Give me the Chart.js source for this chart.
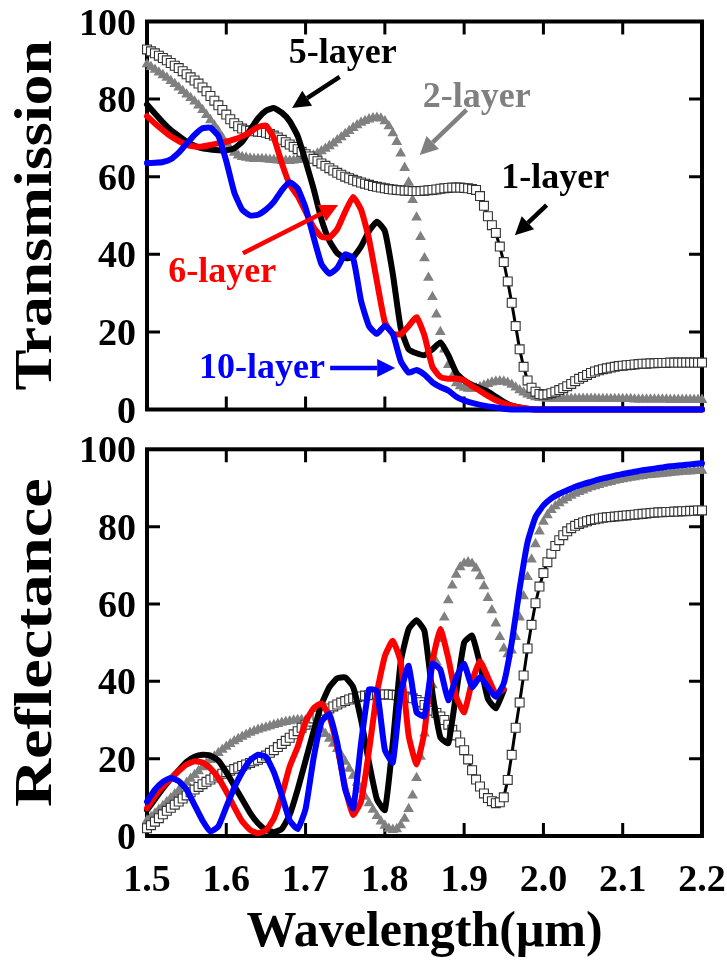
<!DOCTYPE html>
<html lang="en">
<head>
    <meta charset="UTF-8">
    <title>Transmission and Reflectance vs Wavelength</title>
    <script src="https://cdn.jsdelivr.net/npm/chart.js"></script>
    <style>
        body { margin: 0; background: #fff; }
        .wrap { position: relative; width: 727px; height: 977px; }
        canvas { position: absolute; left: 0; top: 0; }
    </style>
</head>
<body>
<div class="wrap">
    <canvas id="transChart" width="727" height="977"></canvas>
    <canvas id="reflChart" width="727" height="977"></canvas>
</div>
<script>
// wavelength grid for the solid lines (um)
const wlLine = [
    1.50, 1.51, 1.52, 1.53, 1.54, 1.55, 1.56, 1.57, 1.58, 1.59,
    1.60, 1.61, 1.62, 1.63, 1.64, 1.65, 1.66, 1.67, 1.68, 1.69,
    1.70, 1.71, 1.72, 1.73, 1.74, 1.75, 1.76, 1.77, 1.78, 1.79,
    1.80, 1.81, 1.82, 1.83, 1.84, 1.85, 1.86, 1.87, 1.88, 1.89,
    1.90, 1.91, 1.92, 1.93, 1.94, 1.95, 1.96, 1.97, 1.98, 1.99,
    2.00, 2.01, 2.02, 2.03, 2.04, 2.05, 2.06, 2.07, 2.08, 2.09,
    2.10, 2.11, 2.12, 2.13, 2.14, 2.15, 2.16, 2.17, 2.18, 2.19,
    2.20
];
// finer grid for the marker series
const wlMark = [
    1.500, 1.505, 1.510, 1.515, 1.520, 1.525, 1.530, 1.535, 1.540, 1.545,
    1.550, 1.555, 1.560, 1.565, 1.570, 1.575, 1.580, 1.585, 1.590, 1.595,
    1.600, 1.605, 1.610, 1.615, 1.620, 1.625, 1.630, 1.635, 1.640, 1.645,
    1.650, 1.655, 1.660, 1.665, 1.670, 1.675, 1.680, 1.685, 1.690, 1.695,
    1.700, 1.705, 1.710, 1.715, 1.720, 1.725, 1.730, 1.735, 1.740, 1.745,
    1.750, 1.755, 1.760, 1.765, 1.770, 1.775, 1.780, 1.785, 1.790, 1.795,
    1.800, 1.805, 1.810, 1.815, 1.820, 1.825, 1.830, 1.835, 1.840, 1.845,
    1.850, 1.855, 1.860, 1.865, 1.870, 1.875, 1.880, 1.885, 1.890, 1.895,
    1.900, 1.905, 1.910, 1.915, 1.920, 1.925, 1.930, 1.935, 1.940, 1.945,
    1.950, 1.955, 1.960, 1.965, 1.970, 1.975, 1.980, 1.985, 1.990, 1.995,
    2.000, 2.005, 2.010, 2.015, 2.020, 2.025, 2.030, 2.035, 2.040, 2.045,
    2.050, 2.055, 2.060, 2.065, 2.070, 2.075, 2.080, 2.085, 2.090, 2.095,
    2.100, 2.105, 2.110, 2.115, 2.120, 2.125, 2.130, 2.135, 2.140, 2.145,
    2.150, 2.155, 2.160, 2.165, 2.170, 2.175, 2.180, 2.185, 2.190, 2.195,
    2.200
];

const xTicks = [1.5, 1.6, 1.7, 1.8, 1.9, 2.0, 2.1, 2.2];
const xTickLabels = ['1.5', '1.6', '1.7', '1.8', '1.9', '2.0', '2.1', '2.2'];
const yTicks = [0, 20, 40, 60, 80, 100];

// ---- Transmission (top) ----
const trans1 = [
    92.8, 92.3, 91.8, 91.2, 90.6, 90.0, 89.3, 88.6, 88.0, 87.2,
    86.4, 85.6, 84.8, 84.0, 83.0, 82.0, 80.8, 79.6, 78.4, 77.2,
    76.0, 74.8, 73.8, 73.0, 72.4, 72.0, 71.8, 71.7, 71.6, 71.5,
    71.3, 71.0, 70.6, 70.1, 69.5, 68.9, 68.3, 67.7, 67.1, 66.4,
    65.8, 65.2, 64.6, 64.0, 63.4, 62.8, 62.2, 61.6, 61.0, 60.5,
    60.0, 59.6, 59.2, 58.8, 58.5, 58.2, 57.9, 57.6, 57.4, 57.2,
    57.0, 56.8, 56.7, 56.6, 56.5, 56.4, 56.4, 56.3, 56.3, 56.3,
    56.4, 56.5, 56.6, 56.7, 56.9, 57.0, 57.1, 57.2, 57.2, 57.2,
    57.1, 57.0, 56.8, 56.6, 55.0, 52.5, 49.8, 47.5, 45.5, 42.0,
    38.0, 33.0, 27.5, 21.5, 15.5, 11.0, 7.5, 5.6, 4.6, 4.0,
    3.8, 3.9, 4.2, 4.6, 5.0, 5.5, 6.0, 6.6, 7.3, 7.9,
    8.4, 8.9, 9.4, 9.8, 10.1, 10.4, 10.6, 10.8, 11.0, 11.2,
    11.3, 11.4, 11.5, 11.6, 11.7, 11.8, 11.8, 11.9, 11.9, 12.0,
    12.0, 12.0, 12.1, 12.1, 12.1, 12.1, 12.1, 12.1, 12.1, 12.1,
    12.1
];
const trans2 = [
    89.0, 88.3, 87.6, 86.9, 86.2, 85.5, 84.7, 83.9, 83.0, 82.1,
    81.2, 80.3, 79.4, 78.4, 77.2, 75.9, 74.6, 73.2, 71.7, 70.1,
    68.5, 67.2, 66.2, 65.5, 65.1, 64.9, 64.7, 64.6, 64.6, 64.6,
    64.5, 64.4, 64.3, 64.2, 64.1, 64.1, 64.1, 64.2, 64.3, 64.5,
    64.8, 65.1, 65.5, 66.0, 66.6, 67.2, 67.9, 68.6, 69.4, 70.2,
    71.0, 71.8, 72.6, 73.3, 73.9, 74.4, 74.8, 75.1, 75.2, 75.0,
    74.3, 73.0, 71.2, 69.0, 66.0, 62.3, 58.5, 54.0, 49.5, 44.5,
    39.0, 34.0, 29.0, 24.5, 20.0, 15.5, 11.5, 8.5, 6.8, 6.0,
    5.6, 5.4, 5.4, 5.5, 5.8, 6.2, 6.6, 7.0, 7.2, 7.3,
    7.2, 6.9, 6.4, 5.7, 5.0, 4.4, 3.9, 3.5, 3.2, 3.0,
    2.9, 2.8, 2.8, 2.8, 2.8, 2.8, 2.8, 2.8, 2.8, 2.8,
    2.8, 2.8, 2.8, 2.8, 2.7, 2.7, 2.7, 2.7, 2.7, 2.7,
    2.7, 2.7, 2.7, 2.6, 2.6, 2.6, 2.6, 2.6, 2.6, 2.6,
    2.6, 2.6, 2.5, 2.5, 2.5, 2.5, 2.5, 2.5, 2.5, 2.5,
    2.5
];
const trans5 = [
    78.6, 76.3, 74.0, 72.0, 70.5, 69.0, 68.0, 67.3, 67.0, 66.8,
    66.8, 67.3, 69.0, 72.0, 75.0, 77.0, 77.7, 76.5, 74.3, 70.5,
    64.0, 57.0, 49.0, 43.5, 40.3, 39.0, 39.3, 42.0, 46.0, 48.4,
    46.0, 35.0, 21.0, 15.5, 14.5, 14.0, 15.5, 17.3, 14.0, 9.5,
    7.5, 6.3, 5.5, 4.6, 3.3, 2.0, 1.0, 0.5, 0.2, 0,
    0, 0, 0, 0, 0, 0, 0, 0, 0, 0,
    0, 0, 0, 0, 0, 0, 0, 0, 0, 0,
    0
];
const trans6 = [
    75.6, 73.7, 72.0, 70.4, 69.2, 68.2, 67.8, 67.8, 68.2, 68.6,
    69.0, 69.6, 70.4, 71.5, 72.8, 73.2, 70.0, 63.5, 58.0, 55.0,
    51.0, 47.0, 44.5, 44.3, 46.5, 51.0, 54.8, 51.5, 44.0, 33.0,
    22.5, 19.5, 19.4, 21.5, 23.8, 19.0, 11.0, 8.4, 7.9, 8.0,
    7.5, 6.0, 4.8, 3.5, 2.4, 1.6, 1.0, 0.5, 0.2, 0,
    0, 0, 0, 0, 0, 0, 0, 0, 0, 0,
    0, 0, 0, 0, 0, 0, 0, 0, 0, 0,
    0
];
const trans10 = [
    63.5, 63.6, 63.8, 64.5, 66.2, 68.5, 70.8, 72.5, 72.6, 70.5,
    64.0, 56.0, 51.5, 50.0, 50.2, 51.5, 53.5, 56.5, 58.6, 57.0,
    52.0, 44.5, 37.5, 35.0, 36.5, 40.0, 39.0, 28.0, 21.5, 19.5,
    21.6, 19.5, 12.5, 9.5, 10.2, 9.0, 7.0, 5.8, 4.9, 3.3,
    2.3, 1.7, 1.2, 0.8, 0.5, 0.2, 0, 0, 0, 0,
    0, 0, 0, 0, 0, 0, 0, 0, 0, 0,
    0, 0, 0, 0, 0, 0, 0, 0, 0, 0,
    0
];

// ---- Reflectance (bottom) ----
const refl1 = [
    2.0, 2.8, 3.7, 4.6, 5.6, 6.5, 7.3, 8.1, 8.9, 9.7,
    10.5, 11.3, 12.0, 12.7, 13.4, 14.0, 14.6, 15.1, 15.6, 16.1,
    16.5, 16.9, 17.3, 17.7, 18.1, 18.5, 18.9, 19.3, 19.7, 20.2,
    20.8, 21.5, 22.2, 23.0, 23.8, 24.6, 25.4, 26.3, 27.1, 28.0,
    28.8, 29.6, 30.4, 31.1, 31.8, 32.4, 33.0, 33.5, 34.0, 34.5,
    34.9, 35.3, 35.6, 35.9, 36.1, 36.3, 36.4, 36.5, 36.6, 36.6,
    36.6, 36.6, 36.5, 36.4, 36.3, 36.1, 35.9, 35.6, 35.2, 34.6,
    33.9, 33.1, 32.4, 31.8, 30.9, 30.0, 28.8, 27.5, 26.0, 24.2,
    22.2, 19.8, 17.0, 14.6, 12.8, 11.0, 9.8, 9.0, 8.5, 8.7,
    10.0, 14.5, 21.0, 28.0, 34.5, 41.5, 48.5, 54.6, 60.2, 64.5,
    68.0, 70.8, 73.0, 75.0, 76.5, 77.8, 78.8, 79.6, 80.2, 80.7,
    81.1, 81.4, 81.7, 81.9, 82.1, 82.3, 82.4, 82.5, 82.6, 82.7,
    82.8, 82.9, 83.0, 83.1, 83.2, 83.3, 83.4, 83.5, 83.6, 83.7,
    83.7, 83.8, 83.8, 83.9, 83.9, 84.0, 84.0, 84.1, 84.1, 84.2,
    84.2
];
const refl2 = [
    4.0, 4.9, 5.8, 6.8, 7.8, 8.8, 9.8, 10.8, 11.8, 12.8,
    13.8, 14.8, 15.8, 16.8, 17.8, 18.8, 19.7, 20.6, 21.5, 22.3,
    23.1, 23.8, 24.5, 25.1, 25.7, 26.2, 26.7, 27.1, 27.5, 27.8,
    28.1, 28.4, 28.7, 29.0, 29.3, 29.5, 29.7, 29.9, 30.0, 30.0,
    29.9, 29.6, 29.1, 28.4, 27.5, 26.4, 25.2, 23.9, 22.5, 20.9,
    19.2, 17.4, 15.6, 13.8, 12.0, 10.2, 8.5, 6.8, 5.2, 3.8,
    2.7, 1.9, 1.6, 1.8, 2.8, 4.5, 7.0, 10.5, 15.0, 20.5,
    26.5, 32.8, 39.0, 45.0, 51.0, 56.5, 61.0, 64.8, 67.6, 69.5,
    70.5, 70.8, 70.4, 69.2, 67.2, 64.6, 61.6, 58.4, 55.0, 51.5,
    48.5, 47.0, 48.0, 51.5, 56.5, 62.0, 67.0, 71.5, 75.5, 78.8,
    81.3, 83.0, 84.3, 85.3, 86.1, 86.8, 87.4, 88.0, 88.5, 89.0,
    89.4, 89.8, 90.2, 90.5, 90.8, 91.1, 91.4, 91.6, 91.9, 92.1,
    92.3, 92.5, 92.7, 92.8, 93.0, 93.1, 93.3, 93.4, 93.5, 93.6,
    93.7, 93.8, 93.9, 94.0, 94.1, 94.2, 94.3, 94.3, 94.4, 94.4,
    94.5
];
// 5- and 6-layer reflectance run under the 10-layer curve beyond 1.95 um
const refl5 = [
    6.7, 9.5, 12.3, 14.8, 17.0, 19.2, 20.5, 21.0, 20.8, 19.5,
    16.5, 13.0, 9.5, 6.0, 3.3, 1.6, 1.0, 1.8, 5.5, 12.0,
    19.5, 27.0, 34.0, 38.5, 40.8, 41.0, 38.5, 30.0, 19.0, 9.5,
    6.7, 24.0, 45.0, 53.5, 55.8, 53.0, 37.0, 25.5, 24.0, 37.0,
    50.0, 51.8, 44.5, 35.5, 33.0, 37.7
];
const refl6 = [
    7.2, 10.3, 12.8, 14.8, 16.8, 18.5, 19.3, 19.0, 17.5, 15.0,
    11.5, 7.5, 3.8, 1.6, 0.7, 1.5, 4.5, 10.5, 18.0, 23.0,
    29.5, 33.0, 34.3, 31.0, 23.0, 12.5, 5.5, 9.0, 22.0, 37.0,
    46.5, 50.5, 45.0, 26.0, 18.5, 27.0, 45.0, 53.5, 46.0, 36.0,
    32.0, 40.0, 45.2, 41.0, 36.8, 38.0
];
const refl10 = [
    8.9, 12.0, 14.0, 15.0, 14.2, 12.0, 8.0, 4.0, 1.2, 2.5,
    7.5, 12.5, 16.5, 19.6, 21.0, 20.5, 16.5, 10.5, 4.0, 1.8,
    7.0, 20.0, 29.5, 31.5, 24.0, 12.0, 7.2, 24.0, 37.9, 37.5,
    22.3, 19.0, 37.0, 44.0, 32.0, 31.0, 44.5, 43.0, 35.1, 41.0,
    44.5, 38.5, 41.1, 38.5, 36.0, 39.5, 50.0, 64.0, 76.0, 82.5,
    85.5, 87.3, 88.5, 89.4, 90.3, 91.0, 91.6, 92.2, 92.7, 93.2,
    93.6, 94.0, 94.4, 94.7, 95.0, 95.3, 95.6, 95.8, 96.0, 96.2,
    96.4
];

// text labels with arrows on the transmission panel, in data units
const transNotes = [
    { text: '5-layer', color: '#000000', x: 1.747, y: 89.3, from: [1.743, 85.7], to: [1.683, 77.7] },
    { text: '2-layer', color: '#808080', x: 1.916, y: 78.0, from: [1.903, 77.2], to: [1.844, 65.6] },
    { text: '1-layer', color: '#000000', x: 2.015, y: 57.1, from: [2.004, 52.7], to: [1.964, 44.9] },
    { text: '6-layer', color: '#ff0000', x: 1.595, y: 32.9, from: [1.621, 40.3], to: [1.741, 52.7] },
    { text: '10-layer', color: '#0000ff', x: 1.645, y: 8.1, from: [1.731, 10.7], to: [1.813, 10.7] }
];

const SERIF = '"Liberation Serif", "Times New Roman", serif';

function pts(xs, ys) {
    return ys.map((y, i) => ({ x: xs[i], y: y }));
}

function lineSet(label, xs, ys, color) {
    return {
        label: label,
        data: pts(xs, ys),
        showLine: true,
        borderColor: color,
        backgroundColor: color,
        borderWidth: 6,
        borderCapStyle: 'round',
        borderJoinStyle: 'round',
        pointRadius: 0,
        tension: 0.15,
        clip: false
    };
}

function squareSet(label, ys) {
    return {
        label: label,
        data: pts(wlMark, ys),
        showLine: true,
        borderColor: '#000000',
        borderWidth: 3,
        tension: 0,
        pointStyle: 'rect',
        pointRadius: 6.3,
        pointBackgroundColor: '#ffffff',
        pointBorderColor: '#333333',
        pointBorderWidth: 1.1,
        clip: false
    };
}

function triangleSet(label, ys) {
    return {
        label: label,
        data: pts(wlMark, ys),
        showLine: false,
        pointStyle: 'triangle',
        pointRadius: 6.2,
        pointBackgroundColor: '#808080',
        pointBorderColor: '#808080',
        pointBorderWidth: 0,
        clip: false
    };
}

function drawArrow(ctx, x1, y1, x2, y2, color) {
    const ang = Math.atan2(y2 - y1, x2 - x1);
    const headLen = 18, headHalf = 9;
    const bx = x2 - Math.cos(ang) * headLen;
    const by = y2 - Math.sin(ang) * headLen;
    ctx.strokeStyle = color;
    ctx.fillStyle = color;
    ctx.lineWidth = 4.5;
    ctx.beginPath();
    ctx.moveTo(x1, y1);
    ctx.lineTo(bx, by);
    ctx.stroke();
    ctx.beginPath();
    ctx.moveTo(x2, y2);
    ctx.lineTo(bx + Math.sin(ang) * headHalf, by - Math.cos(ang) * headHalf);
    ctx.lineTo(bx - Math.sin(ang) * headHalf, by + Math.cos(ang) * headHalf);
    ctx.closePath();
    ctx.fill();
}

// frame, inward ticks, tick labels, titles and notes
const panelDecor = {
    id: 'panelDecor',
    beforeDatasetsDraw(chart, args, opts) {
        const { ctx, chartArea: a, scales: { x, y } } = chart;
        ctx.save();
        ctx.strokeStyle = '#000';
        ctx.lineWidth = 3;
        ctx.beginPath();
        xTicks.slice(1, -1).forEach(v => {
            const px = x.getPixelForValue(v);
            ctx.moveTo(px, a.top); ctx.lineTo(px, a.top + 13);
            ctx.moveTo(px, a.bottom); ctx.lineTo(px, a.bottom - 13);
        });
        yTicks.slice(1, -1).forEach(v => {
            const py = y.getPixelForValue(v);
            ctx.moveTo(a.left, py); ctx.lineTo(a.left + 13, py);
            ctx.moveTo(a.right, py); ctx.lineTo(a.right - 13, py);
        });
        ctx.stroke();
        ctx.lineWidth = 4;
        ctx.strokeRect(a.left, a.top, a.right - a.left, a.bottom - a.top);
        ctx.restore();
    },
    afterDraw(chart, args, opts) {
        const { ctx, chartArea: a, scales: { x, y } } = chart;
        ctx.save();
        ctx.fillStyle = '#000';
        ctx.font = 'bold 38px ' + SERIF;
        ctx.textAlign = 'right';
        ctx.textBaseline = 'alphabetic';
        yTicks.forEach(v => {
            ctx.fillText(String(v), a.left - 11, y.getPixelForValue(v) + 13);
        });
        if (opts.xLabels) {
            ctx.textAlign = 'center';
            xTicks.forEach((v, i) => {
                ctx.fillText(xTickLabels[i], x.getPixelForValue(v), a.bottom + 55);
            });
            ctx.font = 'bold 50px ' + SERIF;
            ctx.fillText(opts.xTitle, (a.left + a.right) / 2, 946);
        }
        // vertical axis title, a little elongated like the original
        ctx.save();
        ctx.translate(51, (a.top + a.bottom) / 2);
        ctx.rotate(-Math.PI / 2);
        ctx.scale(opts.titleStretch || 1, 1);
        ctx.font = 'bold 52px ' + SERIF;
        ctx.textAlign = 'center';
        ctx.fillText(opts.title, 0, 0);
        ctx.restore();
        // annotations
        (opts.notes || []).forEach(n => {
            ctx.font = 'bold 36px ' + SERIF;
            ctx.textAlign = 'center';
            ctx.fillStyle = n.color;
            ctx.fillText(n.text, x.getPixelForValue(n.x), y.getPixelForValue(n.y));
            drawArrow(ctx,
                x.getPixelForValue(n.from[0]), y.getPixelForValue(n.from[1]),
                x.getPixelForValue(n.to[0]), y.getPixelForValue(n.to[1]), n.color);
        });
        ctx.restore();
    }
};

function makePanel(id, datasets, top, bottom, decor) {
    return new Chart(document.getElementById(id), {
        type: 'scatter',
        data: { datasets: datasets },
        options: {
            responsive: false,
            animation: false,
            devicePixelRatio: 1,
            layout: { padding: { left: 147, right: 25, top: top, bottom: 977 - bottom } },
            plugins: {
                legend: { display: false },
                tooltip: { enabled: false },
                panelDecor: decor
            },
            events: [],
            scales: {
                x: { type: 'linear', min: 1.5, max: 2.2, display: false },
                y: { type: 'linear', min: 0, max: 100, display: false }
            }
        },
        plugins: [panelDecor]
    });
}

// first dataset is drawn on top
makePanel('transChart', [
    lineSet('10-layer', wlLine, trans10, '#0000ff'),
    lineSet('6-layer', wlLine, trans6, '#ff0000'),
    lineSet('5-layer', wlLine, trans5, '#000000'),
    squareSet('1-layer', trans1),
    triangleSet('2-layer', trans2)
], 21.5, 409.5, { title: 'Transmission', titleStretch: 1.18, xLabels: false, notes: transNotes });

makePanel('reflChart', [
    lineSet('10-layer', wlLine, refl10, '#0000ff'),
    lineSet('6-layer', wlLine, refl6, '#ff0000'),
    lineSet('5-layer', wlLine, refl5, '#000000'),
    squareSet('1-layer', refl1),
    triangleSet('2-layer', refl2)
], 449.3, 836, { title: 'Reflectance', titleStretch: 1.28, xLabels: true, xTitle: 'Wavelength(\u03bcm)' });
</script>
</body>
</html>
